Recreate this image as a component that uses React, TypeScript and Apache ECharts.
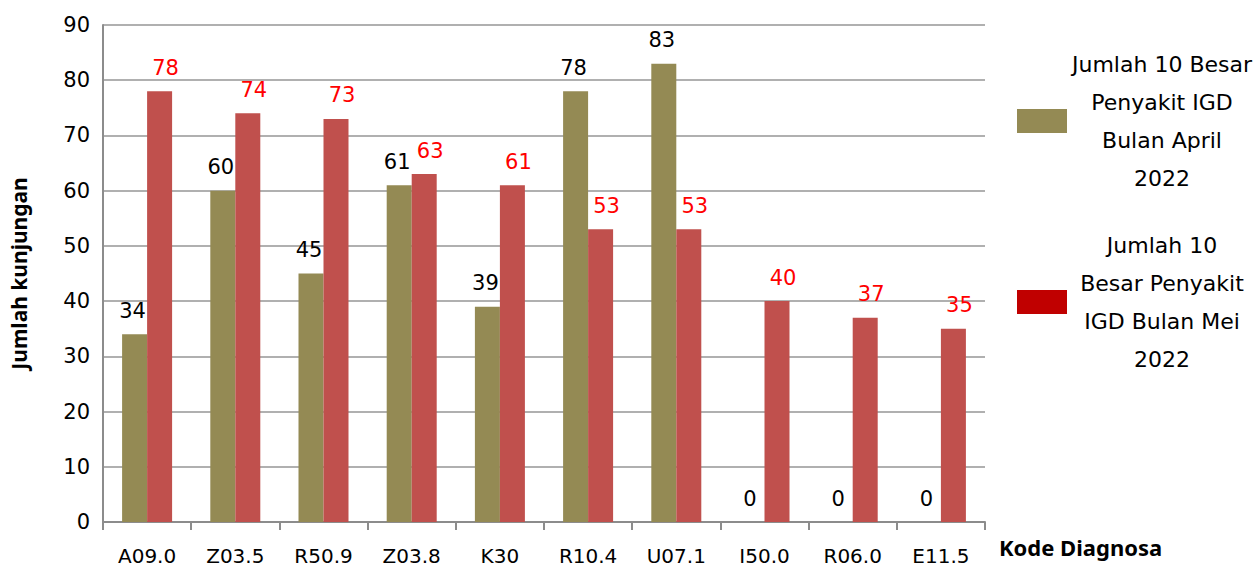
import React, { useEffect, useRef } from "react";
import * as echarts from "echarts";

const categories = ["A09.0", "Z03.5", "R50.9", "Z03.8", "K30", "R10.4", "U07.1", "I50.0", "R06.0", "E11.5"];
const aprilValues = [34, 60, 45, 61, 39, 78, 83, 0, 0, 0];
const meiValues = [78, 74, 73, 63, 61, 53, 53, 40, 37, 35];
const aprilLines = ["Jumlah 10 Besar", "Penyakit IGD", "Bulan April", "2022"];
const meiLines = ["Jumlah 10", "Besar Penyakit", "IGD Bulan Mei", "2022"];
const yTicks = { min: 0, max: 90, interval: 10 };

const FONT = "DejaVu Sans";

export default function App() {
  const ref = useRef<HTMLDivElement>(null);
  useEffect(() => {
    document.body.style.margin = "0";
    const chart = echarts.init(ref.current!, null, { renderer: "svg" });
    const aprilName = aprilLines.join(" ");
    const meiName = meiLines.join(" ");
    const linesByName: Record<string, string[]> = { [aprilName]: aprilLines, [meiName]: meiLines };
    chart.setOption({
      animation: false,
      backgroundColor: "#ffffff",
      grid: { left: 98, right: 273, top: 25, bottom: 50, containLabel: false },
      legend: {
        orient: "vertical",
        left: 1012,
        top: 48,
        itemWidth: 50,
        itemHeight: 24,
        itemGap: 45,
        icon: "rect",
        selectedMode: false,
        data: [
          { name: aprilName, itemStyle: { color: "#948A54" } },
          { name: meiName, itemStyle: { color: "#C00000" } },
        ],
        formatter: (name: string) => (linesByName[name] || [name]).map((l) => `{t|${l}}`).join("\n"),
        textStyle: {
          fontFamily: FONT,
          color: "#000",
          rich: {
            t: { width: 180, align: "center", lineHeight: 38, fontSize: 22, fontFamily: FONT, color: "#000" },
          },
        },
      },
      xAxis: {
        type: "category",
        data: categories,
        name: "Kode Diagnosa",
        nameLocation: "end",
        nameGap: 14,
        nameTextStyle: {
          fontFamily: "Noto Sans",
          fontWeight: "bold",
          fontSize: 22,
          color: "#000",
          verticalAlign: "top",
          padding: [14, 0, 0, 0],
        },
        axisLine: { show: true, lineStyle: { color: "#8c8c8c", width: 2 } },
        axisTick: { show: true, length: 8, lineStyle: { color: "#8c8c8c", width: 2 } },
        axisLabel: { fontFamily: FONT, fontSize: 20, color: "#000", margin: 24 },
        splitLine: { show: false },
      },
      yAxis: {
        type: "value",
        min: yTicks.min,
        max: yTicks.max,
        interval: yTicks.interval,
        name: "Jumlah kunjungan",
        nameLocation: "middle",
        nameGap: 74,
        nameTextStyle: { fontFamily: "Noto Sans", fontWeight: "bold", fontSize: 21, color: "#000" },
        axisLine: { show: true, lineStyle: { color: "#8c8c8c", width: 2 } },
        axisTick: { show: false },
        axisLabel: { fontFamily: FONT, fontSize: 21, color: "#000", margin: 13 },
        splitLine: { show: true, lineStyle: { color: "#969696", width: 1.5 } },
      },
      series: [
        {
          name: aprilName,
          type: "bar",
          data: aprilValues,
          barWidth: 25,
          barGap: "0%",
          itemStyle: { color: "#948A54" },
          label: {
            show: true,
            position: "top",
            distance: 13,
            offset: [-2, 0],
            fontFamily: FONT,
            fontSize: 21,
            color: "#000",
          },
        },
        {
          name: meiName,
          type: "bar",
          data: meiValues,
          barWidth: 25,
          barGap: "0%",
          itemStyle: { color: "#C0504D" },
          label: {
            show: true,
            position: "top",
            distance: 13,
            offset: [6, 0],
            fontFamily: FONT,
            fontSize: 21,
            color: "#FF0000",
          },
        },
      ],
    });
    return () => chart.dispose();
  }, []);
  return <div ref={ref} style={{ width: 1258, height: 572 }} />;
}
